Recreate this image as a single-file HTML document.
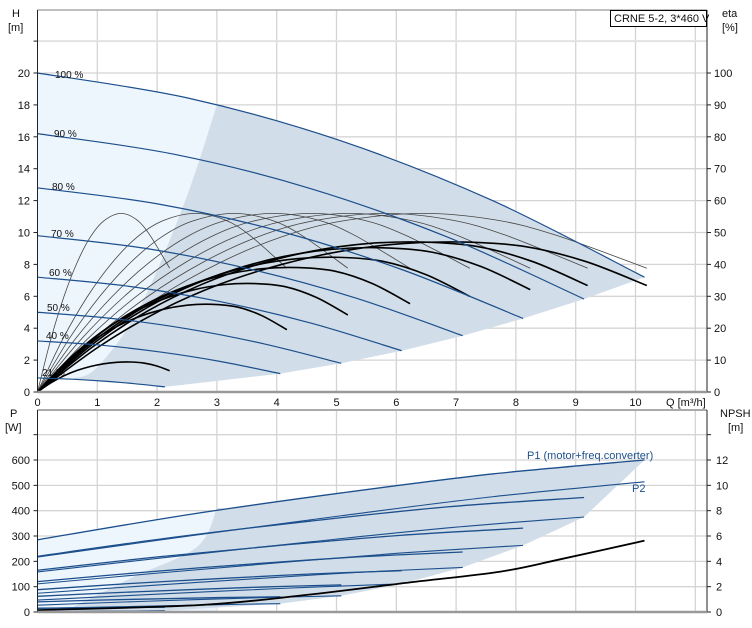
<!DOCTYPE html>
<html><head><meta charset="utf-8">
<style>
html,body{margin:0;padding:0;background:#fff;}
svg{display:block;font-family:"Liberation Sans",sans-serif;}
text{font-size:11px;fill:#111;}
</style></head>
<body>
<svg id="chart" width="752" height="628" viewBox="0 0 752 628" xmlns="http://www.w3.org/2000/svg">
  <g id="bg"></g>
  <g id="grid"></g>
  <g id="areas"></g>
  <g id="series"></g>
  <g id="axes"></g>
  <g id="labels">
    <text x="12" y="17">H</text>
    <text x="8" y="31">[m]</text>
    <text x="722" y="17">eta</text>
    <text x="722" y="31">[%]</text>
    <text x="666" y="406">Q [m³/h]</text>
    <text x="10" y="417">P</text>
    <text x="5" y="431">[W]</text>
    <text x="720" y="417">NPSH</text>
    <text x="728" y="431">[m]</text>
    <rect x="610.5" y="10.5" width="96" height="16" fill="#fff" stroke="#000" stroke-width="1"/>
    <text x="614" y="22">CRNE 5-2, 3*460 V</text>
    <text x="527" y="459" style="fill:#1c4f8c">P1 (motor+freq.converter)</text>
    <text x="632" y="492" style="fill:#1c4f8c">P2</text>
  </g>
</svg>
<script>
// ---- data ----
const speedLabels = ["100 %","90 %","80 %","70 %","60 %","50 %","40 %","21 %"];
const speedQ = [
 [0,2.54,5.08,7.61,10.15],[0,2.28,4.57,6.85,9.14],[0,2.03,4.06,6.09,8.12],[0,1.78,3.55,5.33,7.11],
 [0,1.52,3.05,4.57,6.09],[0,1.27,2.54,3.81,5.08],[0,1.02,2.03,3.05,4.06],[0,0.53,1.07,1.60,2.13]];
const speedH = [
 [20,18.41,15.74,12.0,7.2],[16.2,14.91,12.75,9.72,5.83],[12.8,11.78,10.07,7.68,4.61],[9.8,9.02,7.71,5.88,3.53],
 [7.2,6.63,5.67,4.32,2.59],[5,4.6,3.94,3.0,1.8],[3.2,2.95,2.52,1.92,1.15],[0.88,0.81,0.69,0.53,0.32]];
const etaQmax = [10.19,9.2,8.24,7.23,6.23,5.19,4.17,2.21];
const etaPumpT = [0,0.1,0.2,0.3,0.4,0.5,0.63,0.75,0.85,1];
const etaPump = [0,16.4,29.9,40.6,48.6,53.6,56.0,54.0,49.2,38.8];
const etaTotPeak = [47,47,45.2,42.2,39,34,27.5,9.4];
const etaTotT = [0,0.1,0.2,0.3,0.4,0.5,0.6,0.7,0.8,0.9,1];
const etaTotShape = [0,0.30,0.54,0.72,0.85,0.94,0.99,1,0.97,0.87,0.71];
const leftBoundQ = [0.6,1.0,1.71,2.47,3.0];
const leftBoundH = [0.85,1.56,5.3,12.0,18.0];
const p1 = [[285,385,470,545,600],[220,295,359,415,452],[165,218,263,303,331],[120,157,189,217,237],
 [88,112,132,150,163],[62,76,88,99,107],[40,47,52,57,60],[15,16,17,18,19]];
const p2 = [[217,300,380,455,514],[158,219,277,332,375],[111,154,195,233,263],[74,103,130,156,176],
 [47,65,82,98,111],[27,38,48,57,64],[14,19,24,29,33],[2,3,3.5,4,5]];
const pLeftQ = [0.6,1.6,2.67,3.0];
const pLeftP = [20,138,257,411];
const npshQ = [0,2.72,4.5,6.23,7.73,8.74,10.15];
const npshV = [0.15,0.55,1.35,2.34,3.18,4.16,5.63];
const qTicks = [0,1,2,3,4,5,6,7,8,9,10];
const hTicks = [0,2,4,6,8,10,12,14,16,18,20];
const etaTicks = [0,10,20,30,40,50,60,70,80,90,100];
const pTicks = [0,100,200,300,400,500,600];
const npshTicks = [0,2,4,6,8,10,12];
const labelPos = [[55,78],[54,137],[52,190],[51,237],[49,276],[47,311],[46,339],[42,376]];

// ---- scales ----
const X0=37.5, XS=59.8, XR=707;
const xQ=q=>X0+XS*q;
const yH=h=>392-15.95*h;
const yEta=e=>yH(e/5);
const yP=p=>612-0.2533*p;
const yN=n=>612-12.667*n;
const NS="http://www.w3.org/2000/svg";
function mk(tag,attrs,parent){const e=document.createElementNS(NS,tag);for(const k in attrs)e.setAttribute(k,attrs[k]);parent.appendChild(e);return e;}
function smooth(pts){
  if(pts.length<2)return "";
  let d="M"+pts[0][0].toFixed(2)+","+pts[0][1].toFixed(2);
  for(let i=0;i<pts.length-1;i++){
    const p0=pts[i-1]||pts[i],p1=pts[i],p2=pts[i+1],p3=pts[i+2]||p2;
    const c1=[p1[0]+(p2[0]-p0[0])/6,p1[1]+(p2[1]-p0[1])/6];
    const c2=[p2[0]-(p3[0]-p1[0])/6,p2[1]-(p3[1]-p1[1])/6];
    d+="C"+c1.map(v=>v.toFixed(2))+" "+c2.map(v=>v.toFixed(2))+" "+p2[0].toFixed(2)+","+p2[1].toFixed(2);
  }
  return d;
}
function sample(pts,n){ // sample smooth points densely via polyline of catmull
  const out=[];
  for(let i=0;i<pts.length-1;i++){
    const p0=pts[i-1]||pts[i],p1=pts[i],p2=pts[i+1],p3=pts[i+2]||p2;
    for(let s=0;s<n;s++){const t=s/n,t2=t*t,t3=t2*t;
      out.push([0,1].map(k=>0.5*((2*p1[k])+(-p0[k]+p2[k])*t+(2*p0[k]-5*p1[k]+4*p2[k]-p3[k])*t2+(-p0[k]+3*p1[k]-3*p2[k]+p3[k])*t3)));}
  }
  out.push(pts[pts.length-1]);return out;
}
const bg=document.getElementById('bg'),grid=document.getElementById('grid'),areas=document.getElementById('areas'),series=document.getElementById('series'),axes=document.getElementById('axes'),labels=document.getElementById('labels');

// backgrounds
// grid
for(let q=1;q<=11;q++){
  const l1=mk('line',{x1:xQ(q),x2:xQ(q),y1:10,y2:392,stroke:'#d4d4d4','stroke-width':1.3},grid);
  
  
  const l2=mk('line',{x1:xQ(q),x2:xQ(q),y1:410,y2:612,stroke:'#d4d4d4','stroke-width':1.3},grid);
  
  
}
for(let h=2;h<=22;h+=2){
  const l=mk('line',{x1:X0,x2:XR,y1:yH(h),y2:yH(h),stroke:h==22?'#e2e2e2':'#d4d4d4','stroke-width':h==22?2:1.3},grid);
  
  
}
for(let p=100;p<=700;p+=100){
  const l=mk('line',{x1:X0,x2:XR,y1:yP(p),y2:yP(p),stroke:'#d4d4d4','stroke-width':1.3},grid);
  
  
}

// top areas
{
  const top100=sample(speedQ[0].map((q,i)=>[q,speedH[0][i]]),12).filter(p=>p[0]<=3.0);
  const lb=sample(leftBoundQ.map((q,i)=>[q,leftBoundH[i]]),8);
  const c21=sample(speedQ[7].map((q,i)=>[q,speedH[7][i]]),12);
  const lightPts=[...top100,[3.0,18.0],...lb.slice().reverse(),...c21.filter(p=>p[0]<=0.6).reverse()];
  const lp=mk('polygon',{points:lightPts.map(p=>xQ(p[0])+","+yH(p[1])).join(" "),fill:'#edf5fd'},areas);
  
  
  const full100=sample(speedQ[0].map((q,i)=>[q,speedH[0][i]]),12).filter(p=>p[0]>=3.0);
  const ends=[];for(let i=0;i<8;i++)ends.push([speedQ[i][4],speedH[i][4]]);
  const darkPts=[...lb,...full100,...ends.slice(1),...c21.filter(p=>p[0]>=0.6).reverse()];
  const dp=mk('polygon',{points:darkPts.map(p=>xQ(p[0])+","+yH(p[1])).join(" "),fill:'#d1dde8'},areas);
  
  
}
// bottom areas
{
  const top=sample(speedQ[0].map((q,i)=>[q,p1[0][i]]),12);
  const lb=sample(pLeftQ.map((q,i)=>[q,pLeftP[i]]),8);
  const lightPts=[...top.filter(p=>p[0]<=3.0),[3.0,0],[0,0]];
  const lp=mk('polygon',{points:lightPts.map(p=>xQ(p[0])+","+yP(p[1])).join(" "),fill:'#edf5fd'},areas);
  
  
  const ends=[];for(let i=0;i<8;i++)ends.push([speedQ[i][4],p2[i][4]]);
  ends[0]=[speedQ[0][4],p1[0][4]];
  const darkPts=[...lb,...top.filter(p=>p[0]>3.0),...ends.slice(1),[0.6,5]];
  const dp=mk('polygon',{points:darkPts.map(p=>xQ(p[0])+","+yP(p[1])).join(" "),fill:'#d1dde8'},areas);
  
  
}

// pump efficiency curves (thin)
for(let i=0;i<8;i++){
  const pts=etaPumpT.map((t,k)=>[xQ(t*etaQmax[i]),yEta(etaPump[k])]);
  const p=mk('path',{d:smooth(pts),fill:'none',stroke:'#444','stroke-width':0.8},series);
  
  
}
// total efficiency curves (thick)
for(let i=0;i<8;i++){
  const pts=etaTotT.map((t,k)=>[xQ(t*etaQmax[i]),yEta(etaTotShape[k]*etaTotPeak[i])]);
  const p=mk('path',{d:smooth(pts),fill:'none',stroke:'#000','stroke-width':1.6},series);
  
  
}
// speed curves
for(let i=0;i<8;i++){
  const pts=speedQ[i].map((q,k)=>[xQ(q),yH(speedH[i][k])]);
  const p=mk('path',{d:smooth(pts),fill:'none',stroke:'#1c4f8c','stroke-width':1.2},series);
  
  
  const t=mk('text',{x:labelPos[i][0],y:labelPos[i][1],style:'font-size:10px'},labels);
  t.textContent=speedLabels[i];
  
  
}
// power curves
for(let i=0;i<8;i++){
  const a=speedQ[i].map((q,k)=>[xQ(q),yP(p2[i][k])]);
  const pa=mk('path',{d:smooth(a),fill:'none',stroke:'#1c4f8c','stroke-width':1.1},series);
  
  
  const b=speedQ[i].map((q,k)=>[xQ(q),yP(p1[i][k])]);
  const pb=mk('path',{d:smooth(b),fill:'none',stroke:'#1c4f8c','stroke-width':1.3},series);
  
  
}
// NPSH
{
  const pts=npshQ.map((q,k)=>[xQ(q),yN(npshV[k])]);
  const p=mk('path',{d:smooth(pts),fill:'none',stroke:'#000','stroke-width':1.8},series);
  
  
}

// axes & frames
function ln(x1,y1,x2,y2,c,w,name){const l=mk('line',{x1,y1,x2,y2,stroke:c,'stroke-width':w},axes);}
ln(X0,10,XR,10,'#aaa',1.5,'top-frame');
ln(X0,10,X0,392,'#222',1,'h-axis-line');
ln(XR,10,XR,392,'#222',1,'eta-axis-line');
ln(X0,392,XR,392,'#999',2.5,'q-axis-line');
ln(X0,410,XR,410,'#aaa',2,'bottom-top-frame');
ln(X0,410,X0,612,'#222',1,'p-axis-line');
ln(XR,410,XR,612,'#222',1,'npsh-axis-line');
ln(X0,612,XR,612,'#999',2.5,'bottom-q-axis-line');
function tx(x,y,s,anchor,name){const t=mk('text',{x,y,'text-anchor':anchor},axes);t.textContent=s;}
qTicks.forEach(q=>tx(xQ(q),406,String(q),'middle','q-tick-label'));
hTicks.forEach(h=>{ln(X0-4,yH(h),X0,yH(h),'#222',1,'h-tick');tx(30,yH(h)+4,String(h),'end','h-tick-label');});
ln(X0-4,yH(22),X0,yH(22),'#222',1,'h-tick');
etaTicks.forEach(e=>{ln(XR,yEta(e),XR+4,yEta(e),'#222',1,'eta-tick');tx(714,yEta(e)+4,String(e),'start','eta-tick-label');});
pTicks.forEach(p=>{ln(X0-4,yP(p),X0,yP(p),'#222',1,'p-tick');tx(30,yP(p)+4,String(p),'end','p-tick-label');});
ln(X0-4,yP(700),X0,yP(700),'#222',1,'p-tick');
npshTicks.forEach(n=>{ln(XR,yN(n),XR+4,yN(n),'#222',1,'npsh-tick');tx(716,yN(n)+4,String(n),'start','npsh-tick-label');});
ln(XR,yN(14),XR+4,yN(14),'#222',1,'npsh-tick');
</script>
</body></html>
